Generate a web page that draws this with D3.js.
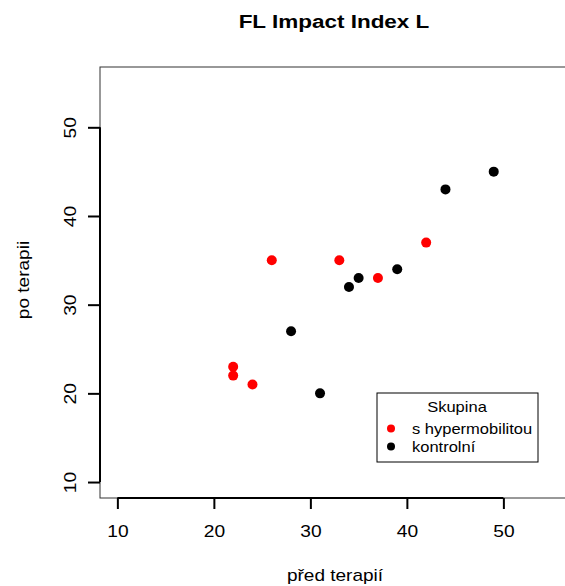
<!DOCTYPE html>
<html>
<head>
<meta charset="utf-8">
<script src="https://cdn.jsdelivr.net/npm/d3@7"></script>
<style>
	body { margin: 0; background: #fff; }
	svg { display: block; font-family: "Liberation Sans", Arial, Helvetica, sans-serif; }
</style>
</head>
<body>
<svg width="565" height="586"></svg>
<script>
// data
var hyperPred = [22, 22, 24, 26, 33, 37, 42],
	hyperPo = [23, 22, 21, 35, 35, 33, 37],
	kontrolPred = [28, 31, 34, 35, 39, 44, 49],
	kontrolPo = [27, 20, 32, 33, 34, 43, 45],
	groups = ["s hypermobilitou", "kontrolní"],
	groupColors = ["#ff0000", "#000000"],
	tickValues = [10, 20, 30, 40, 50];

var title = "FL Impact Index L",
	xTitle = "před terapií",
	yTitle = "po terapii",
	legendTitle = "Skupina";

var svg = d3.select("svg"),
	plot = {left: 100, right: 569, top: 67, bottom: 498},
	stretch = 1.25; // picture text is a bit wide

// R-style limits c(10,55) padded by 4%
var lim = [10 - 0.04 * 45, 55 + 0.04 * 45];
var x = d3.scaleLinear().domain(lim).range([plot.left, plot.right]),
	y = d3.scaleLinear().domain(lim).range([plot.bottom, plot.top]);

var points = [];
hyperPred.forEach(function(v, i){ points.push({x: v, y: hyperPo[i], g: 0}) });
kontrolPred.forEach(function(v, i){ points.push({x: v, y: kontrolPo[i], g: 1}) });

// box
svg.append("rect")
	.attr("x", plot.left)
	.attr("y", plot.top)
	.attr("width", plot.right - plot.left)
	.attr("height", plot.bottom - plot.top)
	.attr("fill", "none")
	.attr("stroke", "#333")
	.attr("stroke-width", 1);

// x axis
var gx = svg.append("g")
	.attr("class", "axis axis--x")
	.attr("transform", "translate(0," + plot.bottom + ")")
	.call(d3.axisBottom(x).tickValues(tickValues).tickSize(11).tickSizeOuter(0));

gx.select(".domain").remove();
gx.insert("line", ":first-child")
	.attr("x1", x(tickValues[0]))
	.attr("x2", x(tickValues[tickValues.length - 1]))
	.attr("stroke", "#000")
	.attr("stroke-width", 2);
gx.selectAll(".tick line").attr("stroke", "#000").attr("stroke-width", 2);
gx.selectAll(".tick text")
	.attr("y", 39)
	.attr("dy", null)
	.attr("fill", "#000")
	.attr("font-size", 16)
	.attr("font-family", null)
	.attr("transform", "scale(1.2,1)");

// y axis
var gy = svg.append("g")
	.attr("class", "axis axis--y")
	.attr("transform", "translate(" + plot.left + ",0)")
	.call(d3.axisLeft(y).tickValues(tickValues).tickSize(12).tickSizeOuter(0));

gy.select(".domain").remove();
gy.insert("line", ":first-child")
	.attr("y1", y(tickValues[0]))
	.attr("y2", y(tickValues[tickValues.length - 1]))
	.attr("stroke", "#000")
	.attr("stroke-width", 2);
gy.selectAll(".tick line").attr("stroke", "#000").attr("stroke-width", 2);
gy.selectAll(".tick text")
	.attr("x", 0)
	.attr("dy", null)
	.attr("text-anchor", "middle")
	.attr("fill", "#000")
	.attr("font-size", 16)
	.attr("font-family", null)
	.attr("transform", "translate(-24,0) rotate(-90) scale(1.2,1)");

// points
svg.append("g")
	.selectAll("circle")
	.data(points)
	.enter()
	.append("circle")
	.attr("cx", function(d){ return x(d.x) })
	.attr("cy", function(d){ return y(d.y) })
	.attr("r", 5)
	.attr("fill", function(d){ return groupColors[d.g] });

// titles
svg.append("text")
	.attr("transform", "translate(334,28) scale(" + stretch + ",1)")
	.attr("text-anchor", "middle")
	.attr("font-size", 18)
	.attr("font-weight", "bold")
	.text(title);

svg.append("text")
	.attr("transform", "translate(335,581) scale(1.12,1)")
	.attr("text-anchor", "middle")
	.attr("font-size", 17)
	.text(xTitle);

svg.append("text")
	.attr("transform", "translate(29,280) rotate(-90) scale(1.12,1)")
	.attr("text-anchor", "middle")
	.attr("font-size", 17)
	.text(yTitle);

// legend
var legend = svg.append("g")
	.attr("transform", "translate(377,393)");

legend.append("rect")
	.attr("width", 161)
	.attr("height", 69)
	.attr("fill", "#fff")
	.attr("stroke", "#000")
	.attr("stroke-width", 1);

legend.append("text")
	.attr("transform", "translate(80,18.5) scale(1.18,1)")
	.attr("text-anchor", "middle")
	.attr("font-size", 14)
	.text(legendTitle);

var items = legend.selectAll(".item")
	.data(groups)
	.enter()
	.append("g")
	.attr("class", "item")
	.attr("transform", function(d, i){ return "translate(0," + (35.5 + i * 18) + ")" });

items.append("circle")
	.attr("cx", 14)
	.attr("r", 4)
	.attr("fill", function(d, i){ return groupColors[i] });

items.append("text")
	.attr("transform", "translate(35,5.5) scale(1.18,1)")
	.attr("font-size", 14)
	.text(function(d){ return d });
</script>
</body>
</html>
